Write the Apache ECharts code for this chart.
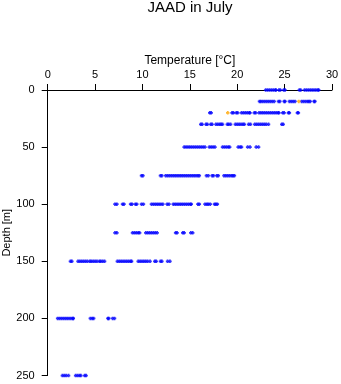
<!DOCTYPE html>
<html>
<head>
<meta charset="utf-8">
<script src="https://cdn.jsdelivr.net/npm/echarts@6/dist/echarts.min.js"></script>
<style>html,body{margin:0;padding:0;background:#fff}#c{width:341px;height:384px}</style>
</head>
<body>
<div id="c"></div>
<script>
var titleText = 'JAAD in July';
var xName = 'Temperature [°C]';
var yName = 'Depth [m]';
var xTicks = [0, 5, 10, 15, 20, 25, 30];
var yTicks = [0, 50, 100, 150, 200, 250];

var depths = [0, 10, 20, 30, 50, 75, 100, 125, 150, 200, 250];
var temp_0 = [23.0, 23.2, 23.4, 23.6, 23.8, 24.0, 24.1, 24.4, 24.55, 24.9, 25.05, 26.55, 26.7, 27.1, 27.3, 27.5, 27.7, 27.9, 28.1, 28.3, 28.5, 28.6];
var temp_10 = [22.35, 22.5, 22.7, 22.9, 23.1, 23.3, 23.5, 23.7, 23.9, 24.35, 24.5, 24.95, 25.05, 25.5, 25.7, 25.9, 26.1, 26.8, 27.0, 27.2, 27.4, 27.55, 27.7, 28.1, 28.2];
var temp_20 = [17.1, 17.25, 19.45, 19.6, 19.9, 20.05, 20.45, 20.65, 20.85, 21.05, 21.25, 21.35, 21.8, 21.95, 22.3, 22.5, 22.7, 22.9, 23.1, 23.3, 23.5, 23.7, 23.9, 24.1, 24.3, 24.4, 24.8, 24.95, 25.4, 25.5, 26.35, 26.45];
var temp_30 = [16.15, 16.3, 16.7, 16.85, 17.2, 17.35, 17.75, 17.95, 18.15, 18.3, 18.45, 18.95, 19.1, 19.3, 19.8, 20.0, 20.2, 20.4, 20.6, 20.75, 21.2, 21.4, 21.85, 22.05, 22.25, 22.45, 22.65, 22.85, 23.05, 23.3, 24.7, 24.85];
var temp_50 = [14.4, 14.6, 14.8, 15.0, 15.2, 15.4, 15.6, 15.8, 16.0, 16.2, 16.4, 16.6, 17.05, 17.25, 17.45, 17.65, 18.45, 18.65, 18.85, 19.05, 19.2, 20.1, 20.3, 20.45, 21.1, 21.35, 22.0, 22.25];
var temp_75 = [9.9, 10.05, 11.9, 12.05, 12.45, 12.65, 12.85, 13.05, 13.25, 13.45, 13.65, 13.85, 14.05, 14.25, 14.45, 14.65, 14.85, 15.05, 15.25, 15.45, 15.65, 15.85, 16.0, 16.75, 16.95, 17.35, 17.5, 17.85, 18.0, 18.6, 18.8, 19.0, 19.2, 19.4, 19.55, 19.7];
var temp_100 = [7.1, 7.3, 7.9, 8.05, 8.75, 8.9, 9.25, 9.4, 9.9, 10.1, 10.95, 11.15, 11.35, 11.55, 11.75, 11.95, 12.15, 12.6, 12.8, 13.25, 13.45, 13.65, 13.85, 14.05, 14.25, 14.45, 14.65, 14.85, 15.05, 15.15, 15.85, 16.0, 16.6, 16.8, 16.95, 17.15, 17.6, 17.75, 17.9];
var temp_125 = [7.1, 7.3, 8.95, 9.15, 9.35, 9.55, 9.7, 10.35, 10.55, 10.75, 10.95, 11.15, 11.35, 11.55, 13.5, 13.65, 14.25, 14.4, 15.1, 15.3];
var temp_150 = [2.4, 2.55, 3.2, 3.4, 3.6, 3.8, 4.0, 4.2, 4.45, 4.6, 4.8, 5.0, 5.2, 5.45, 5.6, 5.8, 6.0, 7.35, 7.55, 7.75, 7.95, 8.15, 8.35, 8.55, 8.75, 8.85, 9.55, 9.75, 9.95, 10.15, 10.35, 10.55, 10.8, 11.3, 11.45, 11.9, 12.05, 12.65, 12.9];
var temp_200 = [1.05, 1.25, 1.45, 1.65, 1.85, 2.05, 2.25, 2.45, 2.65, 2.7, 4.5, 4.7, 4.85, 6.35, 6.45, 6.85, 7.05];
var temp_250 = [1.55, 1.75, 1.95, 2.2, 2.95, 3.15, 3.35, 3.5, 3.9, 4.05];
var highlightTemp = [26.5, 19.0];
var highlightDepth = [10, 20];

var temps = [temp_0, temp_10, temp_20, temp_30, temp_50, temp_75, temp_100, temp_125, temp_150, temp_200, temp_250];
var blueData = [];
for (var i = 0; i < depths.length; i++) {
  for (var j = 0; j < temps[i].length; j++) blueData.push([temps[i][j], depths[i]]);
}
var orangeData = [];
for (var k = 0; k < highlightTemp.length; k++) orangeData.push([highlightTemp[k], highlightDepth[k]]);

var plus = 'path://M1,0H3V1H4V3H3V4H1V3H0V1H1Z';
var font = '"Liberation Sans", Arial, Helvetica, sans-serif';

var chart = echarts.init(document.getElementById('c'), null, {renderer: 'canvas'});
chart.setOption({
  animation: false,
  backgroundColor: '#ffffff',
  title: {
    text: titleText, left: 190, top: 0, padding: 0, textAlign: 'center',
    textStyle: {fontFamily: font, fontSize: 15, fontWeight: 'normal', color: '#000'}
  },
  grid: {left: 47.7, right: 9, top: 90, bottom: 8.5, containLabel: false, outerBoundsMode: 'none'},
  xAxis: {
    type: 'value', position: 'top', min: xTicks[0], max: xTicks[xTicks.length - 1], interval: 5,
    name: xName, nameLocation: 'middle', nameGap: 23, nameMoveOverlap: false,
    nameTextStyle: {fontFamily: font, fontSize: 12, color: '#000'},
    axisLine: {show: true, onZero: false, lineStyle: {color: '#000', width: 1}},
    axisTick: {show: true, length: 6, lineStyle: {color: '#000'}},
    axisLabel: {fontFamily: font, fontSize: 11, color: '#000', margin: 10},
    splitLine: {show: false}
  },
  yAxis: {
    type: 'value', inverse: true, min: yTicks[0], max: yTicks[yTicks.length - 1], interval: 50,
    name: yName, nameLocation: 'middle', nameGap: 35, nameMoveOverlap: false,
    nameTextStyle: {fontFamily: font, fontSize: 11, color: '#000'},
    axisLine: {show: true, onZero: false, lineStyle: {color: '#000', width: 1}},
    axisTick: {show: true, length: 6, lineStyle: {color: '#000'}},
    axisLabel: {fontFamily: font, fontSize: 11, color: '#000', margin: 13},
    splitLine: {show: false}
  },
  series: [
    {type: 'scatter', data: blueData, symbol: plus, symbolSize: 3.5, itemStyle: {color: '#0000ff'}},
    {type: 'scatter', data: orangeData, symbol: plus, symbolSize: 3.5, itemStyle: {color: '#ffa500'}}
  ]
});
</script>
</body>
</html>
